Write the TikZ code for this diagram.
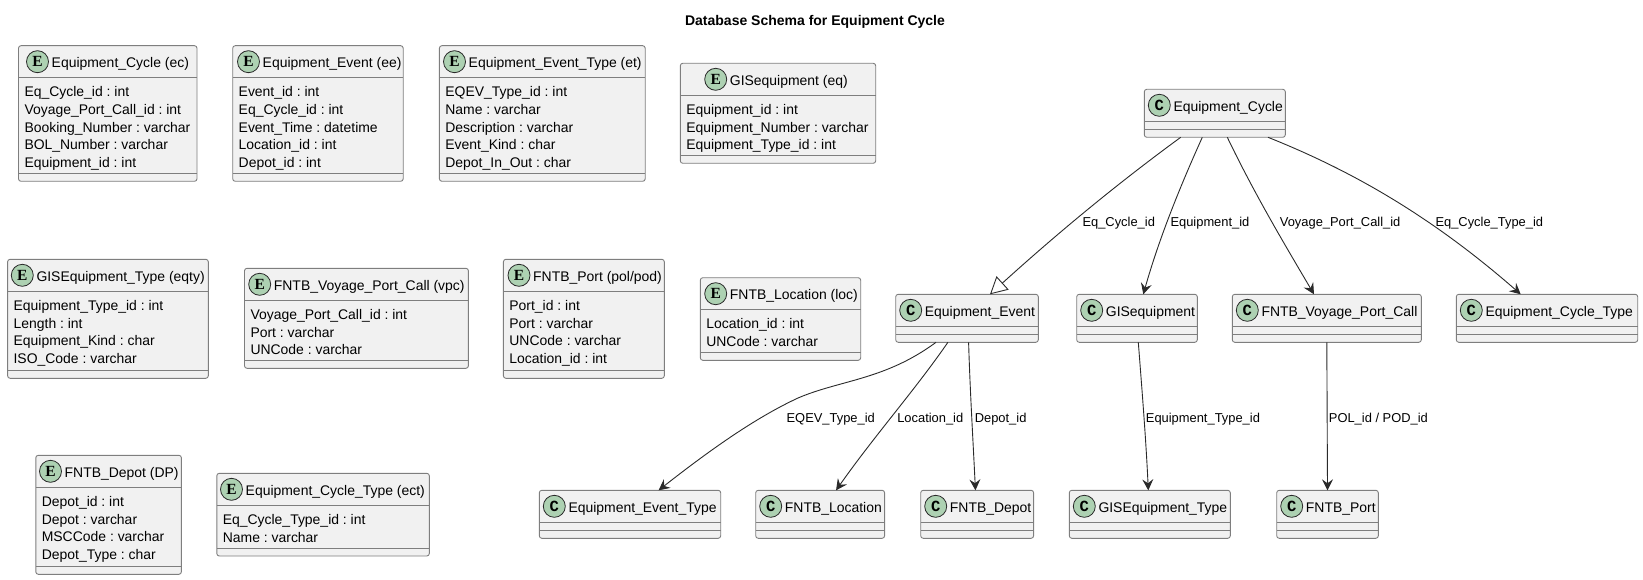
\documentclass[tikz,border=0pt]{standalone}
\usepackage{fontspec}
\setmainfont{Liberation Sans}
\newfontfamily\spotmono{Liberation Mono}
\newfontfamily\spotslab{Liberation Serif}
\usetikzlibrary{arrows.meta, positioning}
\frenchspacing

% entity: id, left, top, right, bottom, circle x, title, members
\newcommand{\entitybox}[8]{
    \node[box, minimum width={(#4-#2)*1pt}, minimum height={(#5-#3)*1pt}] (#1) at (#2,#3) {};
    \draw[sep] ([yshift=-32pt]#1.north west) -- ([yshift=-32pt]#1.north east);
    \draw[sep] ([yshift=8pt]#1.south west) -- ([yshift=8pt]#1.south east);
    \node[spot] (#1spot) at (#6,#3+16) {\spotslab\bfseries E};
    \node[boxtitle, right=3.2pt of #1spot] (#1title) {#7};
    \node[members] (#1rows) at (#2+6,#3+41) {#8};
}
% class: id, left, top, right, title
\newcommand{\classbox}[5]{
    \node[box, minimum width={(#4-#2)*1pt}, minimum height=48pt] (#1) at (#2,#3) {};
    \draw[sep] ([yshift=-32pt]#1.north west) -- ([yshift=-32pt]#1.north east);
    \draw[sep] ([yshift=8pt]#1.south west) -- ([yshift=8pt]#1.south east);
    \node[spot] (#1spot) at (#2+15,#3+16) {\spotmono\bfseries C};
    \node[boxtitle, right=3.2pt of #1spot] (#1title) {#5};
}

\begin{document}
\begin{tikzpicture}[
    x=1pt, y=-1pt,
    box/.style={rectangle, draw=linegray, fill=boxfill, line width=0.9pt, rounded corners=2.5pt,
        anchor=north west, inner sep=0pt, outer sep=0pt},
    sep/.style={draw=linegray, line width=0.9pt},
    spot/.style={circle, draw=linedark, fill=spotgreen, line width=0.8pt, minimum size=22pt,
        inner sep=0pt, outer sep=0pt, font=\fontsize{15.5}{16}\selectfont},
    boxtitle/.style={inner sep=0pt, outer sep=0pt, yshift=-2.5pt, font=\fontsize{13.95}{17}\selectfont},
    members/.style={anchor=north west, align=left, inner sep=0pt, outer sep=0pt,
        font=\fontsize{13.95}{17.67}\selectfont},
    edgelabel/.style={anchor=west, inner sep=0pt, font=\fontsize{12.9}{15}\selectfont},
    arrow/.style={draw=linedark, line width=0.9pt, -{Stealth[length=11pt, width=11pt, inset=4pt]}},
    extends/.style={draw=linedark, line width=0.9pt, -{Triangle[open, fill=white, length=17pt, width=18pt]}}
]
    \definecolor{linegray}{HTML}{7E7E7E}
    \definecolor{linedark}{HTML}{2A2A2A}
    \definecolor{boxfill}{HTML}{F1F1F1}
    \definecolor{spotgreen}{HTML}{ADD1B2}
    \useasboundingbox (0,0) rectangle (1643,580);

    \node[font=\bfseries\fontsize{14}{15}\selectfont, inner sep=0pt] (title) at (815,22) {Database Schema for Equipment Cycle};

    % Entities
    \entitybox{ec}{18.5}{45.7}{197}{181.3}{37.5}{Equipment\_Cycle (ec)}{Eq\_Cycle\_id : int\\Voyage\_Port\_Call\_id : int\\Booking\_Number : varchar\\BOL\_Number : varchar\\Equipment\_id : int}
    \entitybox{ee}{232.7}{45.7}{403.2}{181.3}{248.5}{Equipment\_Event (ee)}{Event\_id : int\\Eq\_Cycle\_id : int\\Event\_Time : datetime\\Location\_id : int\\Depot\_id : int}
    \entitybox{et}{439.4}{45.7}{645.2}{181.3}{454.5}{Equipment\_Event\_Type (et)}{EQEV\_Type\_id : int\\Name : varchar\\Description : varchar\\Event\_Kind : char\\Depot\_In\_Out : char}
    \entitybox{eq}{680.3}{63.3}{875.7}{163.3}{715.7}{GISequipment (eq)}{Equipment\_id : int\\Equipment\_Number : varchar\\Equipment\_Type\_id : int}
    \entitybox{eqty}{7.6}{259.3}{208.3}{378.3}{22.3}{GISEquipment\_Type (eqty)}{Equipment\_Type\_id : int\\Length : int\\Equipment\_Kind : char\\ISO\_Code : varchar}
    \entitybox{vpc}{244.5}{268.3}{468.4}{368.3}{259.7}{FNTB\_Voyage\_Port\_Call (vpc)}{Voyage\_Port\_Call\_id : int\\Port : varchar\\UNCode : varchar}
    \entitybox{pol}{503.4}{259.3}{664.3}{378.3}{519}{FNTB\_Port (pol/pod)}{Port\_id : int\\Port : varchar\\UNCode : varchar\\Location\_id : int}
    \entitybox{loc}{700.3}{277.7}{860.7}{360.3}{715.7}{FNTB\_Location (loc)}{Location\_id : int\\UNCode : varchar}
    \entitybox{dp}{35.8}{455.3}{181.4}{574.3}{50.5}{FNTB\_Depot (DP)}{Depot\_id : int\\Depot : varchar\\MSCCode : varchar\\Depot\_Type : char}
    \entitybox{ect}{216.8}{473.3}{429.3}{556}{231.5}{Equipment\_Cycle\_Type (ect)}{Eq\_Cycle\_Type\_id : int\\Name : varchar}

    % Classes
    \classbox{cycle}{1144.3}{89.3}{1285.3}{Equipment\_Cycle}
    \classbox{event}{895.7}{294.3}{1038.3}{Equipment\_Event}
    \classbox{gis}{1076.7}{294.3}{1197.3}{GISequipment}
    \classbox{voyage}{1232.3}{294.3}{1421.3}{FNTB\_Voyage\_Port\_Call}
    \classbox{cycletype}{1456.3}{294.3}{1637.7}{Equipment\_Cycle\_Type}
    \classbox{eventtype}{539.3}{490.3}{720.7}{Equipment\_Event\_Type}
    \classbox{location}{755.7}{490.3}{884.6}{FNTB\_Location}
    \classbox{depot}{920.7}{490.3}{1033.6}{FNTB\_Depot}
    \classbox{gistype}{1069.3}{490.3}{1230.3}{GISEquipment\_Type}
    \classbox{port}{1276.7}{490.3}{1378.3}{FNTB\_Port}

    % Connections
    \draw[extends] ([xshift=-34.1pt]cycle.south) .. controls (1110,189) and (1050,240) .. ([xshift=23pt]event.north);
    \draw[arrow] ([xshift=-12.5pt]cycle.south) .. controls (1183,180) and (1160,235) .. ([xshift=6.3pt]gis.north);
    \draw[arrow] ([xshift=12.5pt]cycle.south) .. controls (1255,195) and (1285,245) .. ([xshift=-12.8pt]voyage.north);
    \draw[arrow] ([xshift=53.2pt]cycle.south) .. controls (1350,170) and (1430,215) .. ([xshift=-26.3pt]cycletype.north);
    \draw[arrow] ([xshift=-31pt]event.south) .. controls (885,380) and (840,380) .. (798,398) .. controls (755,418) and (710,450) .. ([xshift=28.6pt]eventtype.north);
    \draw[arrow] ([xshift=-19.1pt]event.south) .. controls (915,390) and (875,435) .. ([xshift=15.9pt]location.north);
    \draw[arrow] ([xshift=1.6pt]event.south) .. controls (970,390) and (973,440) .. ([xshift=-1.7pt]depot.north);
    \draw[arrow] ([xshift=1.3pt]gis.south) .. controls (1142,390) and (1146,440) .. ([xshift=-1.5pt]gistype.north);
    \draw[arrow] (voyage.south) -- (port.north);

    % Labels
    \node[edgelabel] (lblcycle) at (1082.3,222.7) {Eq\_Cycle\_id};
    \node[edgelabel] (lblequip) at (1170.3,222.7) {Equipment\_id};
    \node[edgelabel] (lblvoyage) at (1279.7,222.7) {Voyage\_Port\_Call\_id};
    \node[edgelabel] (lblcycletype) at (1435.3,222.7) {Eq\_Cycle\_Type\_id};
    \node[edgelabel] (lbleventtype) at (786.4,418.7) {EQEV\_Type\_id};
    \node[edgelabel] (lbllocation) at (897.1,418.7) {Location\_id};
    \node[edgelabel] (lbldepot) at (974.6,418.7) {Depot\_id};
    \node[edgelabel] (lblgistype) at (1145.7,418.7) {Equipment\_Type\_id};
    \node[edgelabel] (lblport) at (1328.7,418.7) {POL\_id / POD\_id};
\end{tikzpicture}
\end{document}
